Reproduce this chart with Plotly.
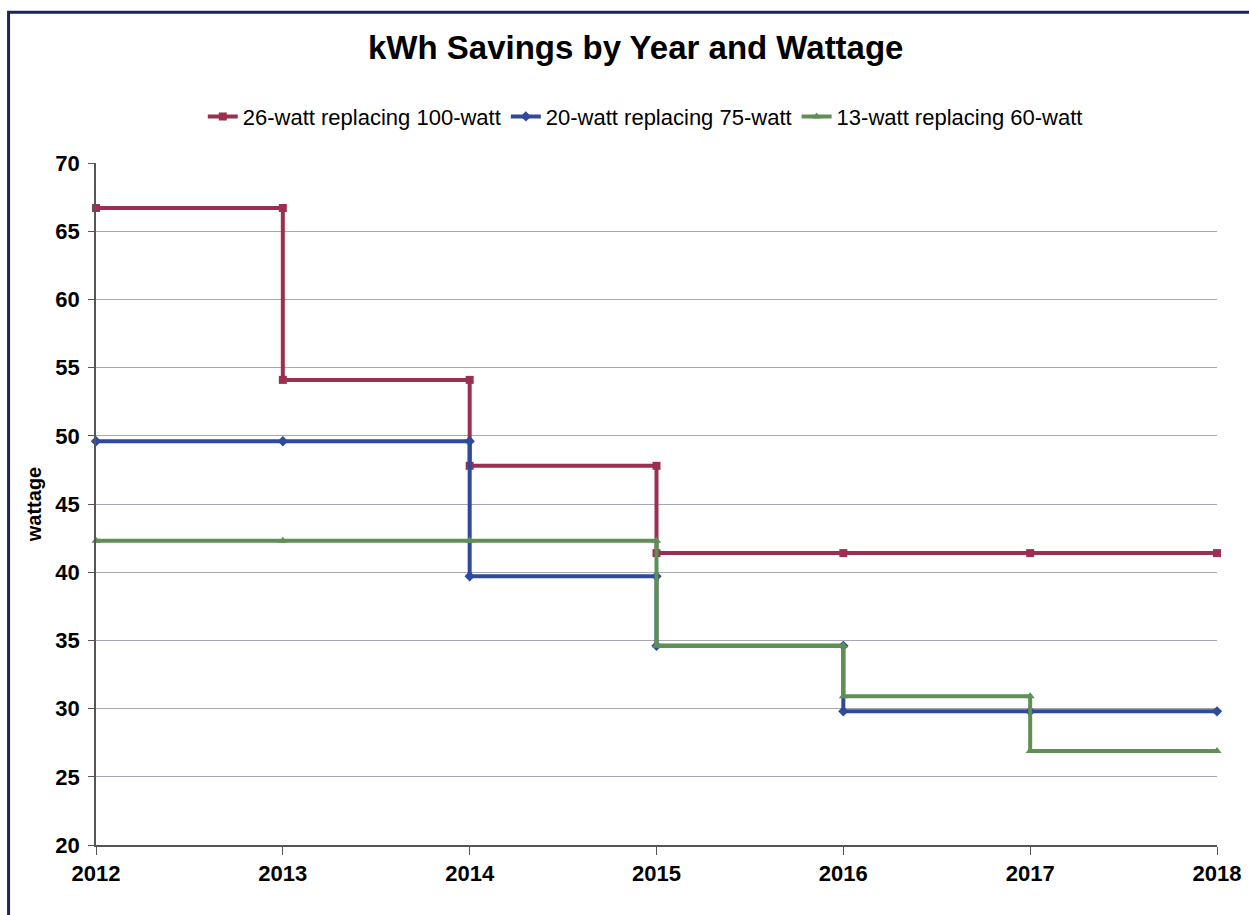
import plotly.graph_objects as go

years = [2012, 2013, 2014, 2015, 2016, 2017, 2018]
s26_100 = [66.7, 54.1, 47.8, 41.4, 41.4, 41.4, 41.4]
s20_75 = [49.6, 49.6, 39.7, 34.6, 29.8, 29.8, 29.8]
s13_60 = [42.3, 42.3, 42.3, 34.6, 30.9, 26.9, 26.9]
names = ["26-watt replacing 100-watt", "20-watt replacing 75-watt", "13-watt replacing 60-watt"]
colors = ["#9c2f4f", "#2f4a9c", "#5f8f55"]
symbols = ["square", "diamond", "triangle-up"]


def step_points(xs, ys):
    px, py = [xs[0]], [ys[0]]
    for i in range(1, len(xs)):
        if ys[i] != ys[i - 1]:
            px.append(xs[i]); py.append(ys[i - 1])
        px.append(xs[i]); py.append(ys[i])
    return px, py


fig = go.Figure()
for vals, name, c, sym in zip([s26_100, s20_75, s13_60], names, colors, symbols):
    px, py = step_points(years, vals)
    fig.add_trace(go.Scatter(
        x=px, y=py, name=name, mode="lines+markers",
        line=dict(color=c, width=4),
        marker=dict(color=c, symbol=sym, size=8),
        cliponaxis=False,
    ))

FONT = "Liberation Sans, Arial, sans-serif"
fig.update_layout(
    width=1249, height=915,
    paper_bgcolor="white", plot_bgcolor="white",
    margin=dict(l=96, r=32, t=163, b=70),
    font=dict(family=FONT, color="black"),
    title=dict(text="<b>kWh Savings by Year and Wattage</b>", x=0.509, xanchor="center",
               y=0.948, yanchor="middle", font=dict(size=33)),
    legend=dict(orientation="h", x=0.49, xanchor="center", y=1.068, yanchor="middle",
                font=dict(size=22), traceorder="normal", itemwidth=30,
                bgcolor="rgba(0,0,0,0)"),
    showlegend=True,
)
fig.update_xaxes(
    range=[2012, 2018], tickvals=years, ticktext=[str(y) for y in years],
    showgrid=False, showline=True, linecolor="#555", linewidth=1.5,
    ticks="outside", ticklen=8, tickcolor="#555", automargin=False,
    tickfont=dict(size=22, family=FONT, weight="bold"),
)
fig.update_yaxes(
    range=[20, 70], dtick=5, showgrid=True, gridcolor="#a8a8b4", gridwidth=1,
    showline=True, linecolor="#555", linewidth=1.5,
    ticks="outside", ticklen=6, tickcolor="#555", automargin=False,
    ticklabelstandoff=4,
    tickfont=dict(size=22, family=FONT, weight="bold"),
    title=dict(text="<b>wattage</b>", font=dict(size=20), standoff=8),
    zeroline=False,
)
fig.add_shape(type="rect", xref="paper", yref="paper",
              x0=-0.078, x1=1.1, y0=-0.3, y1=1.221,
              line=dict(color="#1a2466", width=3), fillcolor="rgba(0,0,0,0)", layer="above")
fig.write_html("out.html")
